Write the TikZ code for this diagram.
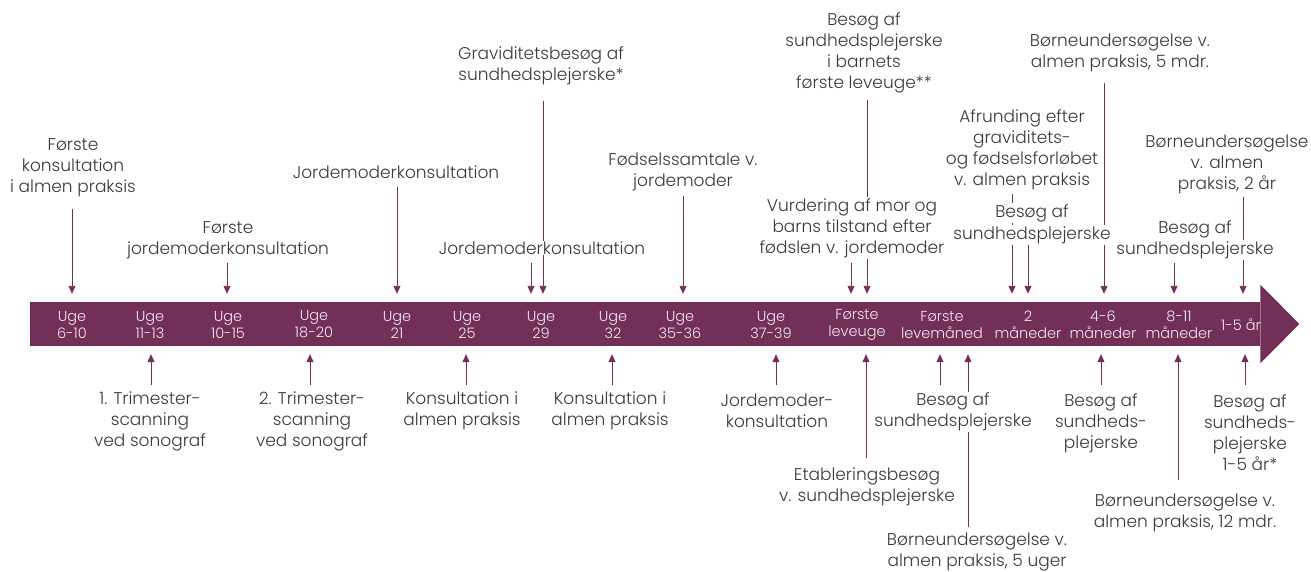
\documentclass[tikz,border=0pt]{standalone}
\usepackage{fontspec}
\setmainfont{Poppins Light}
\usetikzlibrary{arrows.meta}
\definecolor{pur}{HTML}{722F57}
\definecolor{txt}{HTML}{3A3A3A}
\definecolor{barfg}{HTML}{F3E9EF}
\tikzset{
  lbl/.style={font=\fontsize{17}{21}\selectfont, text=txt, align=center, inner xsep=0.5pt, inner ysep=1pt},
  cover/.style={fill=white},
  arr/.style={draw=pur, line width=0.9pt, -{Triangle[width=7pt,length=8pt]}},
  ln/.style={draw=pur, line width=0.9pt},
  btx/.style={font=\fontsize{14.5}{17}\selectfont, text=barfg, align=center}
}
\begin{document}
\begin{tikzpicture}[x=1pt,y=-1pt]
\useasboundingbox (0,0) rectangle (1311,571);
% timeline bar
\node[fill=pur, minimum width=1230pt, minimum height=44pt, inner sep=0pt, anchor=west] (bar) at (30,324) {};
\fill[pur] ([yshift=17pt]bar.north east) -- ([xshift=39pt]bar.east) -- ([yshift=-17pt]bar.south east) -- cycle;
% bar texts
\node[btx] (u1) at (72,324.5) {Uge\\6-10};
\node[btx] (u2) at (150,324.5) {Uge\\11-13};
\node[btx] (u3) at (228,324.5) {Uge\\10-15};
\node[btx] (u4) at (314,324.5) {Uge\\18-20};
\node[btx] (u5) at (397,324.5) {Uge\\21};
\node[btx] (u6) at (467,324.5) {Uge\\25};
\node[btx] (u7) at (541,324.5) {Uge\\29};
\node[btx] (u8) at (613,324.5) {Uge\\32};
\node[btx] (u9) at (680,324.5) {Uge\\35-36};
\node[btx] (u10) at (771,324.5) {Uge\\37-39};
\node[btx] (u11) at (857,324.5) {Første\\leveuge};
\node[btx] (u12) at (942,324.5) {Første\\levemåned};
\node[btx] (u13) at (1028,324.5) {2\\måneder};
\node[btx] (u14) at (1103,324.5) {4-6\\måneder};
\node[btx] (u15) at (1179,324.5) {8-11\\måneder};
\node[btx] (u16) at (1241,325) {1-5 år};
% connector start points (top)
\coordinate (s1) at (72,209);
\coordinate (s2) at (227,263);
\coordinate (s3) at (397,187);
\coordinate (s4) at (543,101);
\coordinate (s5) at (531,263);
\coordinate (s6) at (683,196);
\coordinate (s7) at (851,263);
\coordinate (s8) at (867,100);
\coordinate (s9) at (1012,194);
\coordinate (s10) at (1028,243);
\coordinate (s11) at (1104,83);
\coordinate (s12) at (1243,197);
\coordinate (s13) at (1174,263);
\foreach \c in {s1,s2,s3,s4,s5,s6,s7,s8,s9,s10,s11,s12,s13}
  \draw[arr, shorten >=8pt] (\c) -- (\c |- bar.north);
% connector start points (bottom)
\coordinate (b1) at (151,385);
\coordinate (b2) at (310,385);
\coordinate (b3) at (466,385);
\coordinate (b4) at (612,385);
\coordinate (b5) at (776,385);
\coordinate (b6) at (866,458);
\coordinate (b7) at (940,385);
\coordinate (b8) at (968,527);
\coordinate (b9) at (1101,385);
\coordinate (b10) at (1178,480);
\coordinate (b11) at (1245,385);
\foreach \c in {b1,b2,b3,b4,b5,b6,b7,b8,b9,b10,b11}
  \draw[arr, shorten >=8pt] (\c) -- (\c |- bar.south);
% top labels
\node[lbl] (T1) at (73,168) {Første\\konsultation\\i almen praksis};
\node[lbl] (T2) at (228,240) {Første\\jordemoderkonsultation};
\node[lbl] (T3) at (396,172) {Jordemoderkonsultation};
\node[lbl] (T4) at (541,66) {Graviditetsbesøg af\\sundhedsplejerske*};
\node[lbl,cover] (T5) at (542,248) {Jordemoderkonsultation};
\node[lbl] (T6) at (683,172) {Fødselssamtale v.\\jordemoder};
\node[lbl,cover] (T7) at (852,228) {Vurdering af mor og\\barns tilstand efter\\fødslen v. jordemoder};
\node[lbl] (T8) at (864,53) {Besøg af\\sundhedsplejerske\\i barnets\\første leveuge**};
\node[lbl] (T9) at (1022,150) {Afrunding efter\\graviditets-\\og fødselsforløbet\\v. almen praksis};
\node[lbl,cover] (T10a) at (1032,213) {Besøg af};
\node[lbl,cover] (T10b) at (1032,235) {sundhedsplejerske};
\node[lbl] (T11) at (1120,53) {Børneundersøgelse v.\\almen praksis, 5 mdr.};
\node[lbl] (T12) at (1227,164) {Børneundersøgelse\\v. almen\\praksis, 2 år};
\node[lbl] (T13a) at (1195,229) {Besøg af};
\node[lbl,cover] (T13b) at (1195,250) {sundhedsplejerske};
% bottom labels
\node[lbl] (B1) at (150,421) {1. Trimester-\\scanning\\ved sonograf};
\node[lbl] (B2) at (312,421) {2. Trimester-\\scanning\\ved sonograf};
\node[lbl] (B3) at (462,411) {Konsultation i\\almen praksis};
\node[lbl] (B4) at (610,411) {Konsultation i\\almen praksis};
\node[lbl] (B5) at (777,411) {Jordemoder-\\konsultation};
\node[lbl] (B6) at (867,487) {Etableringsbesøg\\v. sundhedsplejerske};
\node[lbl,cover] (B7) at (953,412) {Besøg af\\sundhedsplejerske};
\node[lbl] (B8) at (977,552) {Børneundersøgelse v.\\almen praksis, 5 uger};
\node[lbl] (B9) at (1101,423) {Besøg af\\sundheds-\\plejerske};
\node[lbl] (B10) at (1185,513) {Børneundersøgelse v.\\almen praksis, 12 mdr.};
\node[lbl] (B11) at (1250,433) {Besøg af\\sundheds-\\plejerske\\1-5 år*};
\end{tikzpicture}
\end{document}
